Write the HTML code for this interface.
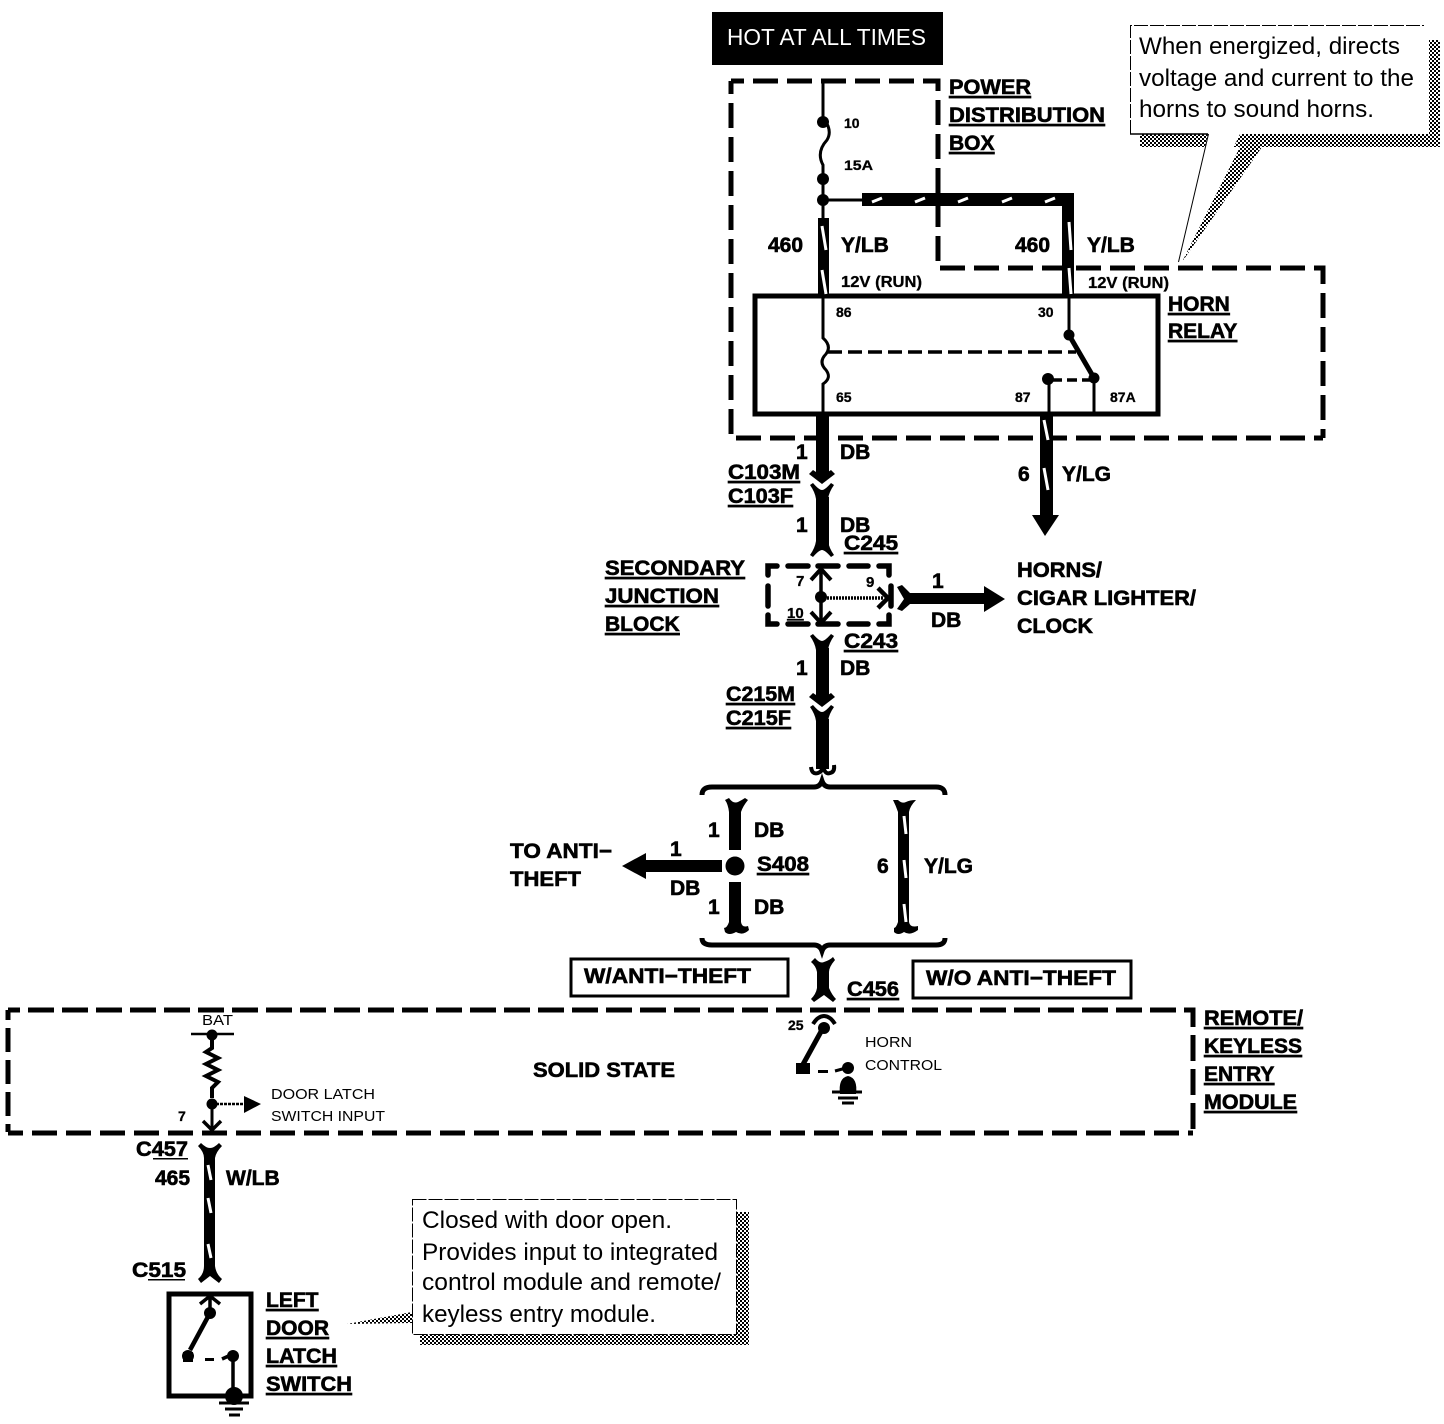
<!DOCTYPE html>
<html><head><meta charset="utf-8"><style>
html,body{margin:0;padding:0;background:#fff}
svg{display:block}
text{font-family:"Liberation Sans",sans-serif;fill:#000}
.b{font-weight:bold;font-size:21px;stroke:#000;stroke-width:.6px}
.u{text-decoration:underline;transform:translateY(-1px)}
.s{font-size:14px;font-weight:bold;stroke:#000;stroke-width:.3px}
.r{font-size:15px}
.c{font-size:24px}
.d{fill:none;stroke:#000;stroke-width:5;stroke-dasharray:25 9;stroke-dashoffset:12}
.w{stroke:#000;fill:none}
.st{stroke:#fff;stroke-width:3;fill:none}
</style></head><body>
<svg width="1444" height="1424" viewBox="0 0 1444 1424" xmlns="http://www.w3.org/2000/svg">
<defs>
<pattern id="p" width="4" height="4" patternUnits="userSpaceOnUse"><rect width="4" height="4" fill="#fff"/><rect width="2" height="2" fill="#000"/><rect x="2" y="2" width="2" height="2" fill="#000"/></pattern>
<path id="f" d="M-12,-2 L-9,-4 Q-3,3 0,3 Q3,3 9,-4 L12,-2 Q7,5 6,12 L-6,12 Q-7,5 -12,-2Z"/>
<path id="m" d="M-13,-8 L-9,-12 L-6,-10 L6,-10 L9,-12 L13,-8 L0,2Z"/>
</defs>
<rect width="1444" height="1424" fill="#fff"/>

<!-- HOT -->
<rect x="712" y="12" width="231" height="53" fill="#000"/>
<text x="727" y="45" font-size="23" textLength="199" lengthAdjust="spacingAndGlyphs" style="fill:#fff">HOT AT ALL TIMES</text>

<!-- dashed boxes -->
<path class="d" d="M731,81 H938 V268 H1323 V438"/>
<path class="d" d="M731,81 V438 H1323"/>
<path class="d" style="stroke-dasharray:26 8;stroke-dashoffset:14" d="M8,1010 H1193 V1133"/>
<path class="d" style="stroke-dasharray:24 8;stroke-dashoffset:14" d="M8,1010 V1132"/>
<path class="d" style="stroke-dashoffset:10" d="M8,1133 H1193"/>

<!-- relay -->
<rect x="755" y="296" width="403" height="118" fill="none" stroke="#000" stroke-width="5"/>

<!-- power feed -->
<path class="w" stroke-width="3" d="M823,82 V118 Q833,130 827,140 Q816,152 823,165 V200 M823,200 H866 M823,200 V220"/>
<circle cx="823" cy="122" r="6"/><circle cx="823" cy="179" r="6"/><circle cx="823" cy="200" r="6"/>
<rect x="862" y="193" width="212" height="13"/>
<rect x="1062" y="193" width="12" height="105"/>
<rect x="818" y="218" width="11" height="80"/>
<g class="st"><path d="M872,202 L882,198 M915,202 L925,198 M958,202 L968,198 M1002,202 L1012,198 M1045,202 L1055,198"/>
<path d="M1069,222 L1071,250 M1069,268 L1071,294 M822,226 L826,250 M822,270 L826,294"/></g>

<!-- relay inner -->
<path class="w" stroke-width="3" d="M823,298 V338 Q832,346 826,354 Q818,362 826,370 Q832,378 823,384 V414"/>
<path class="w" stroke-width="3.5" stroke-dasharray="14 6" d="M828,352 H1076"/>
<path class="w" stroke-width="3" d="M1069,298 V335 M1049,380 V414 M1094,380 V414"/>
<path class="w" stroke-width="5" d="M1069,335 L1094,378"/>
<path class="w" stroke-width="3.5" stroke-dasharray="10 5" d="M1052,380 H1090"/>
<circle cx="1069" cy="335" r="5.5"/><circle cx="1094" cy="378" r="5.5"/><circle cx="1048" cy="379" r="6"/>

<!-- main down -->
<rect x="816" y="413" width="13" height="62"/>
<use href="#m" x="822" y="482"/>
<use href="#f" x="822" y="487"/>
<rect x="816" y="497" width="13" height="48"/>
<use href="#f" transform="translate(822,553) scale(1,-1)"/>

<!-- Y/LG -->
<rect x="1040" y="413" width="13" height="103"/>
<path d="M1032,515 H1059 L1045,536Z"/>
<g class="st"><path d="M1044,420 L1048,440 M1044,468 L1048,490"/></g>

<!-- junction -->
<g class="w" stroke-width="5.5" stroke-linecap="round">
<path d="M768,575 V566 H777 M788,566 H808 M818,566 H838 M849,566 H868 M879,566 H889 V575"/>
<path d="M768,586 V606 M768,615 V624 H777 M788,624 H808 M818,624 H838 M849,624 H868 M879,624 H889 V615"/>
<path d="M891,586 V606"/>
</g>
<path class="w" stroke-width="3.5" d="M821,570 V622"/>
<path class="w" stroke-width="4" d="M811,580 L821,569 L831,580 M811,612 L821,623 L831,612"/>
<path class="w" stroke-width="3.5" stroke-dasharray="2 1" d="M821,598 H884"/>
<path class="w" stroke-width="4.5" d="M878,588 L888,598 L878,608"/>
<circle cx="821" cy="597" r="6"/>
<path d="M897,587 L902,585 L910,593 H984 V586 L1005,599 L984,612 V604 H910 L902,611 L897,609 L904,599Z"/>
<use href="#f" x="822" y="638"/>
<rect x="816" y="648" width="13" height="52"/>
<use href="#m" x="822" y="705"/>
<use href="#f" x="822" y="709"/>
<rect x="816" y="719" width="13" height="50"/>
<path class="w" stroke-width="4" d="M811,767 Q812,775 818,773 Q823,771 823,766 Q825,775 830,773 Q835,772 834,765"/>

<!-- braces -->
<path class="w" stroke-width="5" d="M702,795 Q702,787 712,787 H814 Q820,787 822,781 Q824,787 830,787 H936 Q945,787 945,795"/>
<path class="w" stroke-width="5" d="M702,938 Q702,945 712,945 H814 Q820,945 822,951 Q824,945 830,945 H936 Q945,945 945,938"/>

<!-- branches -->
<path d="M725,800 L729,798 Q733,804 738,802 Q742,800 745,798 L748,800 Q743,806 741,812 V850 H729 V812 Q728,804 725,800Z"/>
<path d="M729,882 H741 V922 Q742,928 748,926 L749,930 Q743,936 736,932 Q729,936 725,932 L724,928 Q727,928 729,922Z"/>
<circle cx="735" cy="866" r="9.5"/>
<path d="M893,800 L898,800 Q902,804 906,802 Q910,800 916,800 Q910,806 909,812 V922 Q910,928 918,926 L918,930 Q910,936 904,932 Q898,936 894,932 L894,928 Q896,928 898,922 V812 Q896,806 893,800Z"/>
<g class="st"><path d="M904,816 L906,834 M904,860 L906,878 M904,904 L906,922"/></g>
<path d="M622,866 L646,853 V860 H722 V872 H646 V879Z"/>

<!-- C456 -->
<path d="M811,962 L815,958 Q820,964 824,962 Q830,960 833,957 L835,960 Q829,967 829,972 V988 Q832,995 836,999 L833,1002 L824,995 L814,1002 L811,999 Q816,994 817,988 V972 Q816,966 811,962Z"/>

<!-- horn control -->
<path class="w" stroke-width="5" d="M823,1028 L801,1068"/>
<path class="w" stroke-width="4" d="M813,1024 Q818,1016 824,1016 Q830,1016 835,1024"/>
<circle cx="824" cy="1028" r="6"/>
<path d="M796,1063 H810 V1074 H796Z"/>
<rect x="818" y="1070" width="10" height="3"/>
<circle cx="848" cy="1068" r="6"/>
<path class="w" stroke-width="3" d="M835,1071 L846,1068"/>
<path d="M840,1094 Q838,1078 848,1076 Q858,1078 856,1094Z"/>
<path class="w" stroke-width="3" d="M832,1092 H862 M838,1098 H858 M842,1103 H854"/>

<!-- BAT -->
<path class="w" stroke-width="2.5" d="M191,1034 H234"/>
<circle cx="212" cy="1035" r="5.5"/>
<path class="w" stroke-width="4" d="M212,1040 V1048 L206,1052 L218,1058 L206,1064 L218,1070 L206,1076 L218,1082 L212,1088 V1098"/>
<circle cx="212" cy="1104" r="5.5"/>
<path class="w" stroke-width="3" d="M212,1104 V1130"/>
<path class="w" stroke-width="3.5" d="M203,1121 L212,1130 L221,1121"/>
<path class="w" stroke-width="2.5" stroke-dasharray="3 1" d="M212,1104 H246"/>
<path d="M244,1096 L261,1104 L244,1113Z"/>

<!-- 465 -->
<path d="M198,1146 L201,1143 Q206,1148 210,1148 Q214,1148 219,1143 L222,1146 Q216,1152 215,1158 V1266 Q216,1274 222,1279 L219,1283 L210,1276 L201,1283 L198,1279 Q204,1274 204,1266 V1158 Q204,1152 198,1146Z"/>
<g class="st"><path d="M208,1165 L211,1180 M208,1198 L211,1213 M208,1244 L211,1258"/></g>

<!-- switch -->
<rect x="169" y="1294" width="82" height="102" fill="none" stroke="#000" stroke-width="5"/>
<path class="w" stroke-width="3.5" d="M200,1304 L210,1296 L220,1304 M210,1296 V1312"/>
<circle cx="210" cy="1313" r="6"/>
<path class="w" stroke-width="4.5" d="M210,1313 L190,1350"/>
<circle cx="188" cy="1356" r="6"/><rect x="183" y="1352" width="10" height="10"/>
<rect x="205" y="1358" width="9" height="3"/>
<circle cx="233" cy="1356" r="6"/>
<path class="w" stroke-width="3.5" d="M222,1359 L233,1354 M233,1356 V1392"/>
<circle cx="234" cy="1396" r="9"/>
<path class="w" stroke-width="3" d="M219,1403 H249 M225,1409 H243 M229,1415 H240"/>

<!-- W/ANTI boxes -->
<rect x="571" y="959" width="217" height="37" fill="none" stroke="#000" stroke-width="3"/>
<rect x="913" y="961" width="218" height="37" fill="none" stroke="#000" stroke-width="3"/>

<!-- callout 1 -->
<path fill="url(#p)" d="M1429,40 H1440 V147 H1262 L1182,262 L1240,147 H1140 V134 H1429Z"/>
<path fill="#fff" d="M1130,25 H1424 V134 H1240 L1178,262 L1208,134 H1130Z"/>
<path fill="none" stroke="#000" stroke-width="1" d="M1208.5,134 L1178.5,262"/>
<path fill="none" stroke="#000" stroke-width="1" stroke-dasharray="14 2" d="M1130.5,134 V25.5 H1424"/>
<path fill="none" stroke="#000" stroke-width="1.5" d="M1130,134 H1208"/>

<!-- callout 2 -->
<path fill="url(#p)" d="M737,1212 H749 V1345 H420 V1334 H737Z"/>
<path fill="url(#p)" d="M412,1312 L347,1324 L412,1323Z"/>
<path fill="#fff" stroke="#000" stroke-width="1" stroke-dasharray="14 2" d="M412.5,1199.5 H736.5 V1334.5 H412.5Z"/>

<!-- underlines partial -->
<rect x="153" y="1158" width="35" height="1.5"/>
<rect x="148" y="1279" width="37" height="1.5"/>

<!-- labels -->
<g class="b">
<text x="949" y="95" class="b u" textLength="82" lengthAdjust="spacingAndGlyphs">POWER</text>
<text x="949" y="123" class="b u" textLength="156" lengthAdjust="spacingAndGlyphs">DISTRIBUTION</text>
<text x="949" y="151" class="b u">BOX</text>
<text x="1168" y="312" class="b u">HORN</text>
<text x="1168" y="339" class="b u">RELAY</text>
<text x="605" y="576" class="b u" textLength="140" lengthAdjust="spacingAndGlyphs">SECONDARY</text>
<text x="605" y="604" class="b u" textLength="114" lengthAdjust="spacingAndGlyphs">JUNCTION</text>
<text x="605" y="632" class="b u">BLOCK</text>
<text x="768" y="252">460</text><text x="841" y="252">Y/LB</text>
<text x="1015" y="252">460</text><text x="1087" y="252">Y/LB</text>
<text x="796" y="459">1</text><text x="840" y="459">DB</text>
<text x="728" y="480" class="b u" textLength="72" lengthAdjust="spacingAndGlyphs">C103M</text><text x="728" y="504" class="b u" textLength="65" lengthAdjust="spacingAndGlyphs">C103F</text>
<text x="796" y="532">1</text><text x="840" y="532">DB</text>
<text x="844" y="551" class="b u" textLength="54" lengthAdjust="spacingAndGlyphs">C245</text>
<text x="932" y="588">1</text><text x="931" y="627">DB</text>
<text x="1017" y="577" textLength="85" lengthAdjust="spacingAndGlyphs">HORNS/</text><text x="1017" y="605" textLength="179" lengthAdjust="spacingAndGlyphs">CIGAR LIGHTER/</text><text x="1017" y="633" textLength="76" lengthAdjust="spacingAndGlyphs">CLOCK</text>
<text x="844" y="649" class="b u" textLength="54" lengthAdjust="spacingAndGlyphs">C243</text>
<text x="796" y="675">1</text><text x="840" y="675">DB</text>
<text x="726" y="702" class="b u" textLength="69" lengthAdjust="spacingAndGlyphs">C215M</text><text x="726" y="726" class="b u" textLength="65" lengthAdjust="spacingAndGlyphs">C215F</text>
<text x="708" y="837">1</text><text x="754" y="837">DB</text>
<text x="757" y="872" class="b u" textLength="52" lengthAdjust="spacingAndGlyphs">S408</text>
<text x="877" y="873">6</text><text x="924" y="873">Y/LG</text>
<text x="708" y="914">1</text><text x="754" y="914">DB</text>
<text x="670" y="856">1</text><text x="670" y="895">DB</text>
<text x="510" y="858" textLength="102" lengthAdjust="spacingAndGlyphs">TO ANTI−</text><text x="510" y="886" textLength="71" lengthAdjust="spacingAndGlyphs">THEFT</text>
<text x="1018" y="481">6</text><text x="1062" y="481">Y/LG</text>
<text x="584" y="983" textLength="167" lengthAdjust="spacingAndGlyphs">W/ANTI−THEFT</text>
<text x="926" y="985" textLength="190" lengthAdjust="spacingAndGlyphs">W/O ANTI−THEFT</text>
<text x="847" y="997" class="b u" textLength="52" lengthAdjust="spacingAndGlyphs">C456</text>
<text x="1204" y="1026" class="b u" textLength="99" lengthAdjust="spacingAndGlyphs">REMOTE/</text>
<text x="1204" y="1054" class="b u">KEYLESS</text>
<text x="1204" y="1082" class="b u">ENTRY</text>
<text x="1204" y="1110" class="b u" textLength="93" lengthAdjust="spacingAndGlyphs">MODULE</text>
<text x="533" y="1077" textLength="142" lengthAdjust="spacingAndGlyphs">SOLID STATE</text>
<text x="136" y="1156" textLength="52" lengthAdjust="spacingAndGlyphs">C457</text>
<text x="155" y="1185">465</text><text x="226" y="1185">W/LB</text>
<text x="132" y="1277" textLength="54" lengthAdjust="spacingAndGlyphs">C515</text>
<text x="266" y="1308" class="b u">LEFT</text>
<text x="266" y="1336" class="b u">DOOR</text>
<text x="266" y="1364" class="b u" textLength="71" lengthAdjust="spacingAndGlyphs">LATCH</text>
<text x="266" y="1392" class="b u" textLength="86" lengthAdjust="spacingAndGlyphs">SWITCH</text>
</g>
<text x="844" y="128" class="s">10</text>
<text x="844" y="170" class="s" textLength="29" lengthAdjust="spacingAndGlyphs">15A</text>
<text x="841" y="287" class="s" font-size="16" style="font-size:16px" textLength="81" lengthAdjust="spacingAndGlyphs">12V (RUN)</text>
<text x="1088" y="288" class="s" style="font-size:16px" textLength="81" lengthAdjust="spacingAndGlyphs">12V (RUN)</text>
<text x="836" y="317" class="s">86</text><text x="1038" y="317" class="s">30</text>
<text x="836" y="402" class="s">65</text><text x="1015" y="402" class="s">87</text><text x="1110" y="402" class="s">87A</text>
<text x="796" y="586" class="s" style="font-size:15px">7</text><text x="866" y="587" class="s" style="font-size:15px">9</text><text x="787" y="619" class="s u" style="font-size:15px">10</text>
<text x="788" y="1030" class="s">25</text>
<text x="865" y="1047" class="r" textLength="47" lengthAdjust="spacingAndGlyphs">HORN</text><text x="865" y="1070" class="r" textLength="77" lengthAdjust="spacingAndGlyphs">CONTROL</text>
<text x="202" y="1025" class="r" textLength="31" lengthAdjust="spacingAndGlyphs">BAT</text>
<text x="271" y="1099" class="r" textLength="104" lengthAdjust="spacingAndGlyphs">DOOR LATCH</text><text x="271" y="1121" class="r" textLength="114" lengthAdjust="spacingAndGlyphs">SWITCH INPUT</text>
<text x="178" y="1121" class="s">7</text>
<text x="1139" y="54" class="c" textLength="261" lengthAdjust="spacingAndGlyphs">When energized, directs</text>
<text x="1139" y="86" class="c" textLength="275" lengthAdjust="spacingAndGlyphs">voltage and current to the</text>
<text x="1139" y="117" class="c" textLength="235" lengthAdjust="spacingAndGlyphs">horns to sound horns.</text>
<text x="422" y="1228" class="c" textLength="250" lengthAdjust="spacingAndGlyphs">Closed with door open.</text>
<text x="422" y="1260" class="c" textLength="296" lengthAdjust="spacingAndGlyphs">Provides input to integrated</text>
<text x="422" y="1290" class="c" textLength="299" lengthAdjust="spacingAndGlyphs">control module and remote/</text>
<text x="422" y="1322" class="c" textLength="234" lengthAdjust="spacingAndGlyphs">keyless entry module.</text>
</svg>
</body></html>
